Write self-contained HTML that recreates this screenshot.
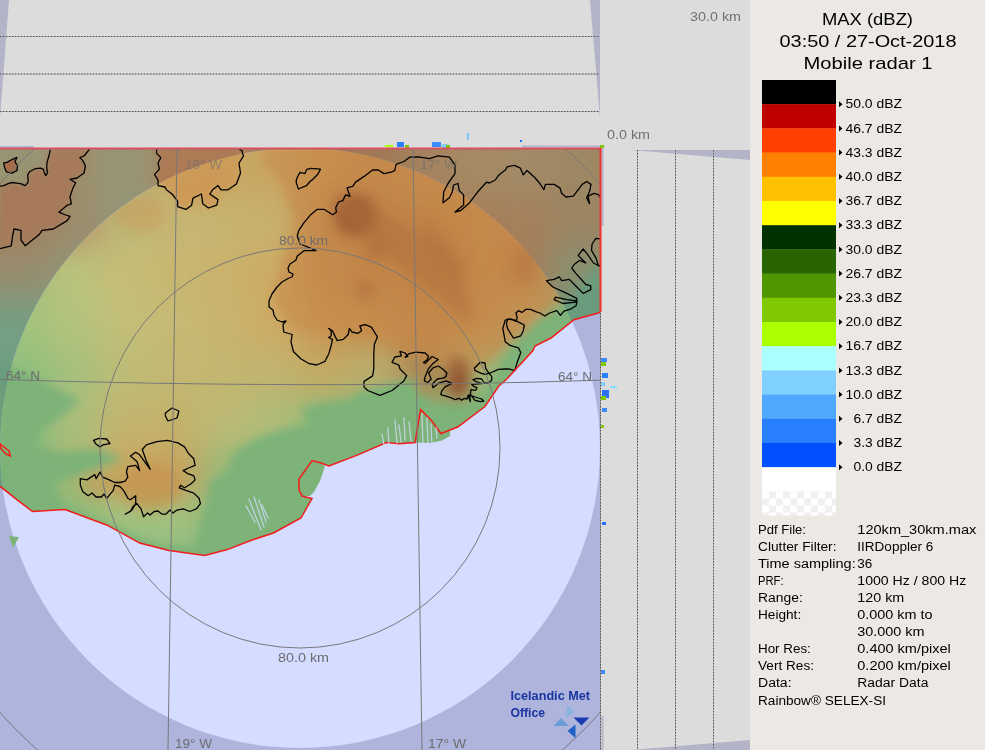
<!DOCTYPE html>
<html><head><meta charset="utf-8"><style>
html,body{margin:0;padding:0;width:985px;height:750px;overflow:hidden;background:#ece9e4;}
svg{display:block;}
</style></head><body>
<svg width="985" height="750" viewBox="0 0 985 750"><defs><clipPath id="mapclip"><rect x="0" y="148" width="600" height="602"/></clipPath><clipPath id="landclip"><path d="M0.0,148.0 L600.0,148.0 L600.0,312.0 L599.0,312.8 L574.0,319.7 L551.0,338.0 L535.0,346.0 L533.0,350.5 L521.6,363.0 L506.8,379.0 L498.8,386.0 L485.0,406.5 L457.7,427.0 L441.0,433.5 L431.0,420.0 L420.6,409.6 L415.0,442.6 L399.0,443.7 L386.5,442.6 L356.6,455.4 L329.0,466.0 L318.0,462.0 L312.0,460.8 L299.0,479.0 L299.0,489.5 L302.0,496.0 L312.0,498.5 L301.0,518.0 L273.5,533.0 L250.0,540.7 L227.4,549.6 L204.7,555.4 L169.0,550.6 L139.7,543.1 L107.2,525.2 L65.0,509.6 L32.5,511.6 L16.2,499.2 L0.0,486.2 Z"/></clipPath><clipPath id="inc"><circle cx="300" cy="448" r="300"/></clipPath><clipPath id="outc"><path clip-rule="evenodd" d="M-50,100 H700 V800 H-50 Z M0,448 A300,300 0 1 0 600,448 A300,300 0 1 0 0,448 Z"/></clipPath><filter id="b14" x="-20%" y="-20%" width="140%" height="140%"><feGaussianBlur stdDeviation="16"/></filter><filter id="b4" x="-20%" y="-20%" width="140%" height="140%"><feGaussianBlur stdDeviation="4"/></filter><filter id="b2" x="-20%" y="-20%" width="140%" height="140%"><feGaussianBlur stdDeviation="2.5"/></filter><filter id="b6" x="-50%" y="-50%" width="200%" height="200%"><feGaussianBlur stdDeviation="6"/></filter><pattern id="chk" width="14" height="14" patternUnits="userSpaceOnUse" x="762" y="491.4"><rect width="14" height="14" fill="#ffffff"/><rect x="7" width="7" height="7" fill="#f0f0f0"/><rect y="7" width="7" height="7" fill="#f0f0f0"/></pattern></defs><rect x="0" y="0" width="985" height="750" fill="#dcdcdc"/><rect x="750" y="0" width="235" height="750" fill="#ece9e4"/><path d="M0,0 L9,0 L0,118 Z" fill="#b4b4c8"/><path d="M590,0 L600,0 L600,118 Z" fill="#b4b4c8"/><line x1="0" y1="36.5" x2="599" y2="36.5" stroke="#b0b0b0" stroke-width="1"/><line x1="0" y1="36.5" x2="599" y2="36.5" stroke="#505050" stroke-width="1" stroke-dasharray="1.3,1.7"/><line x1="0" y1="74" x2="599" y2="74" stroke="#b0b0b0" stroke-width="1"/><line x1="0" y1="74" x2="599" y2="74" stroke="#505050" stroke-width="1" stroke-dasharray="1.3,1.7"/><line x1="0" y1="111.5" x2="599" y2="111.5" stroke="#b0b0b0" stroke-width="1"/><line x1="0" y1="111.5" x2="599" y2="111.5" stroke="#505050" stroke-width="1" stroke-dasharray="1.3,1.7"/><path d="M631,150 L750,150 L750,160 Z" fill="#b4b4c8"/><path d="M631,750 L750,750 L750,740 Z" fill="#b4b4c8"/><line x1="637.5" y1="150" x2="637.5" y2="750" stroke="#b0b0b0" stroke-width="1"/><line x1="637.5" y1="150" x2="637.5" y2="750" stroke="#505050" stroke-width="1" stroke-dasharray="1.3,1.7"/><line x1="675.5" y1="150" x2="675.5" y2="750" stroke="#b0b0b0" stroke-width="1"/><line x1="675.5" y1="150" x2="675.5" y2="750" stroke="#505050" stroke-width="1" stroke-dasharray="1.3,1.7"/><line x1="713.5" y1="150" x2="713.5" y2="750" stroke="#b0b0b0" stroke-width="1"/><line x1="713.5" y1="150" x2="713.5" y2="750" stroke="#505050" stroke-width="1" stroke-dasharray="1.3,1.7"/><g clip-path="url(#mapclip)"><rect x="0" y="148" width="600" height="602" fill="#aeb4dc"/><circle cx="300" cy="448" r="300" fill="#d4dcff"/><g clip-path="url(#landclip)"><g clip-path="url(#inc)"><g filter="url(#b14)"><rect x="-50" y="98" width="51" height="51" fill="rgb(190, 130, 85)"/><rect x="0" y="98" width="51" height="51" fill="rgb(190, 130, 85)"/><rect x="50" y="98" width="51" height="51" fill="rgb(185, 140, 100)"/><rect x="100" y="98" width="51" height="51" fill="rgb(175, 170, 120)"/><rect x="150" y="98" width="51" height="51" fill="rgb(200, 172, 105)"/><rect x="200" y="98" width="51" height="51" fill="rgb(200, 168, 100)"/><rect x="250" y="98" width="51" height="51" fill="rgb(200, 165, 98)"/><rect x="300" y="98" width="51" height="51" fill="rgb(200, 145, 78)"/><rect x="350" y="98" width="51" height="51" fill="rgb(192, 130, 70)"/><rect x="400" y="98" width="51" height="51" fill="rgb(195, 135, 72)"/><rect x="450" y="98" width="51" height="51" fill="rgb(198, 140, 75)"/><rect x="500" y="98" width="51" height="51" fill="rgb(198, 140, 80)"/><rect x="550" y="98" width="51" height="51" fill="rgb(190, 145, 90)"/><rect x="600" y="98" width="51" height="51" fill="rgb(190, 145, 90)"/><rect x="-50" y="148" width="51" height="51" fill="rgb(190, 130, 85)"/><rect x="0" y="148" width="51" height="51" fill="rgb(190, 130, 85)"/><rect x="50" y="148" width="51" height="51" fill="rgb(185, 140, 100)"/><rect x="100" y="148" width="51" height="51" fill="rgb(175, 170, 120)"/><rect x="150" y="148" width="51" height="51" fill="rgb(200, 172, 105)"/><rect x="200" y="148" width="51" height="51" fill="rgb(200, 168, 100)"/><rect x="250" y="148" width="51" height="51" fill="rgb(200, 165, 98)"/><rect x="300" y="148" width="51" height="51" fill="rgb(200, 145, 78)"/><rect x="350" y="148" width="51" height="51" fill="rgb(192, 130, 70)"/><rect x="400" y="148" width="51" height="51" fill="rgb(195, 135, 72)"/><rect x="450" y="148" width="51" height="51" fill="rgb(198, 140, 75)"/><rect x="500" y="148" width="51" height="51" fill="rgb(198, 140, 80)"/><rect x="550" y="148" width="51" height="51" fill="rgb(190, 145, 90)"/><rect x="600" y="148" width="51" height="51" fill="rgb(190, 145, 90)"/><rect x="-50" y="198" width="51" height="51" fill="rgb(190, 130, 90)"/><rect x="0" y="198" width="51" height="51" fill="rgb(190, 130, 90)"/><rect x="50" y="198" width="51" height="51" fill="rgb(185, 145, 105)"/><rect x="100" y="198" width="51" height="51" fill="rgb(188, 185, 120)"/><rect x="150" y="198" width="51" height="51" fill="rgb(198, 182, 115)"/><rect x="200" y="198" width="51" height="51" fill="rgb(198, 180, 112)"/><rect x="250" y="198" width="51" height="51" fill="rgb(200, 176, 108)"/><rect x="300" y="198" width="51" height="51" fill="rgb(192, 132, 70)"/><rect x="350" y="198" width="51" height="51" fill="rgb(180, 115, 62)"/><rect x="400" y="198" width="51" height="51" fill="rgb(185, 122, 64)"/><rect x="450" y="198" width="51" height="51" fill="rgb(192, 130, 68)"/><rect x="500" y="198" width="51" height="51" fill="rgb(192, 132, 72)"/><rect x="550" y="198" width="51" height="51" fill="rgb(175, 155, 110)"/><rect x="600" y="198" width="51" height="51" fill="rgb(175, 155, 110)"/><rect x="-50" y="248" width="51" height="51" fill="rgb(170, 190, 125)"/><rect x="0" y="248" width="51" height="51" fill="rgb(170, 190, 125)"/><rect x="50" y="248" width="51" height="51" fill="rgb(185, 195, 125)"/><rect x="100" y="248" width="51" height="51" fill="rgb(198, 188, 118)"/><rect x="150" y="248" width="51" height="51" fill="rgb(200, 183, 113)"/><rect x="200" y="248" width="51" height="51" fill="rgb(202, 178, 108)"/><rect x="250" y="248" width="51" height="51" fill="rgb(205, 170, 100)"/><rect x="300" y="248" width="51" height="51" fill="rgb(195, 135, 72)"/><rect x="350" y="248" width="51" height="51" fill="rgb(188, 125, 66)"/><rect x="400" y="248" width="51" height="51" fill="rgb(185, 120, 62)"/><rect x="450" y="248" width="51" height="51" fill="rgb(192, 130, 68)"/><rect x="500" y="248" width="51" height="51" fill="rgb(190, 128, 68)"/><rect x="550" y="248" width="51" height="51" fill="rgb(150, 175, 125)"/><rect x="600" y="248" width="51" height="51" fill="rgb(150, 175, 125)"/><rect x="-50" y="298" width="51" height="51" fill="rgb(160, 195, 125)"/><rect x="0" y="298" width="51" height="51" fill="rgb(160, 195, 125)"/><rect x="50" y="298" width="51" height="51" fill="rgb(180, 195, 125)"/><rect x="100" y="298" width="51" height="51" fill="rgb(195, 190, 120)"/><rect x="150" y="298" width="51" height="51" fill="rgb(198, 185, 115)"/><rect x="200" y="298" width="51" height="51" fill="rgb(200, 180, 110)"/><rect x="250" y="298" width="51" height="51" fill="rgb(205, 170, 100)"/><rect x="300" y="298" width="51" height="51" fill="rgb(200, 145, 80)"/><rect x="350" y="298" width="51" height="51" fill="rgb(195, 138, 74)"/><rect x="400" y="298" width="51" height="51" fill="rgb(190, 128, 68)"/><rect x="450" y="298" width="51" height="51" fill="rgb(195, 138, 74)"/><rect x="500" y="298" width="51" height="51" fill="rgb(185, 158, 98)"/><rect x="550" y="298" width="51" height="51" fill="rgb(130, 175, 120)"/><rect x="600" y="298" width="51" height="51" fill="rgb(130, 175, 120)"/><rect x="-50" y="348" width="51" height="51" fill="rgb(145, 192, 125)"/><rect x="0" y="348" width="51" height="51" fill="rgb(145, 192, 125)"/><rect x="50" y="348" width="51" height="51" fill="rgb(165, 192, 125)"/><rect x="100" y="348" width="51" height="51" fill="rgb(190, 188, 118)"/><rect x="150" y="348" width="51" height="51" fill="rgb(195, 183, 113)"/><rect x="200" y="348" width="51" height="51" fill="rgb(195, 182, 112)"/><rect x="250" y="348" width="51" height="51" fill="rgb(192, 180, 112)"/><rect x="300" y="348" width="51" height="51" fill="rgb(195, 170, 100)"/><rect x="350" y="348" width="51" height="51" fill="rgb(185, 175, 110)"/><rect x="400" y="348" width="51" height="51" fill="rgb(170, 130, 80)"/><rect x="450" y="348" width="51" height="51" fill="rgb(165, 180, 115)"/><rect x="500" y="348" width="51" height="51" fill="rgb(130, 180, 120)"/><rect x="550" y="348" width="51" height="51" fill="rgb(125, 178, 120)"/><rect x="600" y="348" width="51" height="51" fill="rgb(125, 178, 120)"/><rect x="-50" y="398" width="51" height="51" fill="rgb(135, 188, 125)"/><rect x="0" y="398" width="51" height="51" fill="rgb(135, 188, 125)"/><rect x="50" y="398" width="51" height="51" fill="rgb(170, 190, 122)"/><rect x="100" y="398" width="51" height="51" fill="rgb(195, 180, 110)"/><rect x="150" y="398" width="51" height="51" fill="rgb(195, 178, 108)"/><rect x="200" y="398" width="51" height="51" fill="rgb(188, 186, 118)"/><rect x="250" y="398" width="51" height="51" fill="rgb(175, 188, 120)"/><rect x="300" y="398" width="51" height="51" fill="rgb(140, 185, 120)"/><rect x="350" y="398" width="51" height="51" fill="rgb(125, 180, 120)"/><rect x="400" y="398" width="51" height="51" fill="rgb(135, 175, 115)"/><rect x="450" y="398" width="51" height="51" fill="rgb(125, 178, 120)"/><rect x="500" y="398" width="51" height="51" fill="rgb(125, 178, 120)"/><rect x="550" y="398" width="51" height="51" fill="rgb(125, 178, 120)"/><rect x="600" y="398" width="51" height="51" fill="rgb(125, 178, 120)"/><rect x="-50" y="448" width="51" height="51" fill="rgb(120, 178, 120)"/><rect x="0" y="448" width="51" height="51" fill="rgb(120, 178, 120)"/><rect x="50" y="448" width="51" height="51" fill="rgb(165, 185, 115)"/><rect x="100" y="448" width="51" height="51" fill="rgb(200, 165, 95)"/><rect x="150" y="448" width="51" height="51" fill="rgb(200, 160, 90)"/><rect x="200" y="448" width="51" height="51" fill="rgb(150, 185, 120)"/><rect x="250" y="448" width="51" height="51" fill="rgb(135, 182, 120)"/><rect x="300" y="448" width="51" height="51" fill="rgb(125, 178, 120)"/><rect x="350" y="448" width="51" height="51" fill="rgb(125, 178, 120)"/><rect x="400" y="448" width="51" height="51" fill="rgb(125, 178, 120)"/><rect x="450" y="448" width="51" height="51" fill="rgb(125, 178, 120)"/><rect x="500" y="448" width="51" height="51" fill="rgb(125, 178, 120)"/><rect x="550" y="448" width="51" height="51" fill="rgb(125, 178, 120)"/><rect x="600" y="448" width="51" height="51" fill="rgb(125, 178, 120)"/><rect x="-50" y="498" width="51" height="51" fill="rgb(120, 178, 120)"/><rect x="0" y="498" width="51" height="51" fill="rgb(120, 178, 120)"/><rect x="50" y="498" width="51" height="51" fill="rgb(140, 185, 122)"/><rect x="100" y="498" width="51" height="51" fill="rgb(160, 195, 128)"/><rect x="150" y="498" width="51" height="51" fill="rgb(160, 195, 128)"/><rect x="200" y="498" width="51" height="51" fill="rgb(140, 182, 120)"/><rect x="250" y="498" width="51" height="51" fill="rgb(125, 178, 120)"/><rect x="300" y="498" width="51" height="51" fill="rgb(125, 178, 120)"/><rect x="350" y="498" width="51" height="51" fill="rgb(125, 178, 120)"/><rect x="400" y="498" width="51" height="51" fill="rgb(125, 178, 120)"/><rect x="450" y="498" width="51" height="51" fill="rgb(125, 178, 120)"/><rect x="500" y="498" width="51" height="51" fill="rgb(125, 178, 120)"/><rect x="550" y="498" width="51" height="51" fill="rgb(125, 178, 120)"/><rect x="600" y="498" width="51" height="51" fill="rgb(125, 178, 120)"/><rect x="-50" y="548" width="51" height="51" fill="rgb(125, 178, 120)"/><rect x="0" y="548" width="51" height="51" fill="rgb(125, 178, 120)"/><rect x="50" y="548" width="51" height="51" fill="rgb(125, 178, 120)"/><rect x="100" y="548" width="51" height="51" fill="rgb(125, 178, 120)"/><rect x="150" y="548" width="51" height="51" fill="rgb(125, 178, 120)"/><rect x="200" y="548" width="51" height="51" fill="rgb(125, 178, 120)"/><rect x="250" y="548" width="51" height="51" fill="rgb(125, 178, 120)"/><rect x="300" y="548" width="51" height="51" fill="rgb(125, 178, 120)"/><rect x="350" y="548" width="51" height="51" fill="rgb(125, 178, 120)"/><rect x="400" y="548" width="51" height="51" fill="rgb(125, 178, 120)"/><rect x="450" y="548" width="51" height="51" fill="rgb(125, 178, 120)"/><rect x="500" y="548" width="51" height="51" fill="rgb(125, 178, 120)"/><rect x="550" y="548" width="51" height="51" fill="rgb(125, 178, 120)"/><rect x="600" y="548" width="51" height="51" fill="rgb(125, 178, 120)"/><rect x="-50" y="598" width="51" height="51" fill="rgb(125, 178, 120)"/><rect x="0" y="598" width="51" height="51" fill="rgb(125, 178, 120)"/><rect x="50" y="598" width="51" height="51" fill="rgb(125, 178, 120)"/><rect x="100" y="598" width="51" height="51" fill="rgb(125, 178, 120)"/><rect x="150" y="598" width="51" height="51" fill="rgb(125, 178, 120)"/><rect x="200" y="598" width="51" height="51" fill="rgb(125, 178, 120)"/><rect x="250" y="598" width="51" height="51" fill="rgb(125, 178, 120)"/><rect x="300" y="598" width="51" height="51" fill="rgb(125, 178, 120)"/><rect x="350" y="598" width="51" height="51" fill="rgb(125, 178, 120)"/><rect x="400" y="598" width="51" height="51" fill="rgb(125, 178, 120)"/><rect x="450" y="598" width="51" height="51" fill="rgb(125, 178, 120)"/><rect x="500" y="598" width="51" height="51" fill="rgb(125, 178, 120)"/><rect x="550" y="598" width="51" height="51" fill="rgb(125, 178, 120)"/><rect x="600" y="598" width="51" height="51" fill="rgb(125, 178, 120)"/></g><g filter="url(#b4)"><path d="M262.0,148.0 L600.0,148.0 L600.0,290.0 L560.0,300.0 L525.0,325.0 L495.0,355.0 L475.0,372.0 L445.0,366.0 L405.0,355.0 L378.0,338.0 L335.0,333.0 L292.0,328.0 L272.0,300.0 L282.0,262.0 L296.0,225.0 L282.0,185.0 L262.0,160.0 Z" fill="rgb(198,140,75)" opacity="0.6"/><path d="M0.0,362.0 L30.0,374.0 L58.0,390.0 L80.0,400.0 L65.0,413.5 L42.0,430.0 L32.5,446.0 L55.0,452.5 L97.5,449.0 L123.5,459.0 L84.5,472.0 L52.0,485.0 L65.0,506.0 L97.0,519.0 L130.0,533.0 L162.0,547.0 L195.0,547.0 L201.0,522.0 L208.0,499.0 L210.5,481.8 L228.7,469.7 L234.8,451.4 L256.0,439.0 L280.5,430.0 L308.0,424.0 L301.8,408.7 L326.0,402.6 L350.6,399.6 L362.8,390.5 L378.0,387.4 L411.5,378.3 L420.0,396.0 L440.0,406.0 L470.0,406.0 L490.0,386.0 L508.0,350.0 L540.0,320.0 L560.0,308.0 L580.0,288.0 L600.0,262.0 L600.0,600.0 L0.0,600.0 Z" fill="rgb(125,178,120)"/></g><g filter="url(#b2)"><path d="M156.6,149.2 L156.6,153.4 L160.8,157.6 L158.0,163.2 L159.4,168.8 L157.3,171.6 L154.5,174.4 L158.0,180.0 L158.0,185.6 L165.0,187.0 L166.4,189.8 L172.0,194.0 L177.6,201.0 L177.6,206.6 L186.0,209.4 L191.6,205.2 L193.0,198.2 L201.4,194.0 L202.8,203.8 L208.4,208.0 L216.8,205.2 L218.0,199.6 L209.8,194.0 L212.6,189.8 L218.0,185.6 L221.0,189.8 L228.0,189.8 L236.4,184.0 L240.5,173.0 L239.0,163.0 L243.4,156.2 L242.0,150.6 L239.0,149.2 Z" fill="rgb(205,152,85)" opacity="0.8"/></g><g filter="url(#b6)">
<ellipse cx="355" cy="215" rx="22" ry="22" fill="#985530" opacity="0.75"/>
<path d="M330,190 Q395,215 445,250 Q475,285 470,325 Q440,300 405,270 Q355,235 330,190 Z" fill="#b06a3a" opacity="0.45"/>
<path d="M420,215 Q450,230 470,270 Q460,290 440,265 Q420,240 420,215 Z" fill="#b06a3a" opacity="0.35"/>
<ellipse cx="525" cy="265" rx="14" ry="20" fill="#b06a3a" opacity="0.35"/>
<ellipse cx="458" cy="378" rx="13" ry="22" fill="#9a5a32" opacity="0.8"/><ellipse cx="459" cy="382" rx="8" ry="10" fill="#8a4a28" opacity="0.6"/>
<ellipse cx="365" cy="290" rx="10" ry="8" fill="#a86535" opacity="0.5"/>
<ellipse cx="375" cy="250" rx="12" ry="12" fill="#a86535" opacity="0.35"/>
<ellipse cx="150" cy="488" rx="32" ry="22" fill="#c98a45" opacity="0.55"/>
<ellipse cx="100" cy="485" rx="20" ry="12" fill="#c99050" opacity="0.4"/>
<ellipse cx="140" cy="215" rx="25" ry="18" fill="#d09050" opacity="0.4"/>
<ellipse cx="200" cy="190" rx="25" ry="15" fill="#d09050" opacity="0.4"/>
</g></g><g clip-path="url(#outc)"><g filter="url(#b14)"><rect x="-50" y="98" width="51" height="51" fill="rgb(152, 148, 115)"/><rect x="0" y="98" width="51" height="51" fill="rgb(152, 148, 115)"/><rect x="50" y="98" width="51" height="51" fill="rgb(155, 142, 108)"/><rect x="100" y="98" width="51" height="51" fill="rgb(150, 150, 118)"/><rect x="150" y="98" width="51" height="51" fill="rgb(160, 135, 100)"/><rect x="200" y="98" width="51" height="51" fill="rgb(165, 130, 95)"/><rect x="250" y="98" width="51" height="51" fill="rgb(168, 130, 95)"/><rect x="300" y="98" width="51" height="51" fill="rgb(160, 125, 90)"/><rect x="350" y="98" width="51" height="51" fill="rgb(160, 120, 85)"/><rect x="400" y="98" width="51" height="51" fill="rgb(165, 130, 95)"/><rect x="450" y="98" width="51" height="51" fill="rgb(165, 138, 100)"/><rect x="500" y="98" width="51" height="51" fill="rgb(162, 138, 102)"/><rect x="550" y="98" width="51" height="51" fill="rgb(158, 135, 100)"/><rect x="600" y="98" width="51" height="51" fill="rgb(158, 135, 100)"/><rect x="-50" y="148" width="51" height="51" fill="rgb(152, 148, 115)"/><rect x="0" y="148" width="51" height="51" fill="rgb(152, 148, 115)"/><rect x="50" y="148" width="51" height="51" fill="rgb(155, 142, 108)"/><rect x="100" y="148" width="51" height="51" fill="rgb(150, 150, 118)"/><rect x="150" y="148" width="51" height="51" fill="rgb(160, 135, 100)"/><rect x="200" y="148" width="51" height="51" fill="rgb(165, 130, 95)"/><rect x="250" y="148" width="51" height="51" fill="rgb(168, 130, 95)"/><rect x="300" y="148" width="51" height="51" fill="rgb(160, 125, 90)"/><rect x="350" y="148" width="51" height="51" fill="rgb(160, 120, 85)"/><rect x="400" y="148" width="51" height="51" fill="rgb(165, 130, 95)"/><rect x="450" y="148" width="51" height="51" fill="rgb(165, 138, 100)"/><rect x="500" y="148" width="51" height="51" fill="rgb(162, 138, 102)"/><rect x="550" y="148" width="51" height="51" fill="rgb(158, 135, 100)"/><rect x="600" y="148" width="51" height="51" fill="rgb(158, 135, 100)"/><rect x="-50" y="198" width="51" height="51" fill="rgb(162, 130, 95)"/><rect x="0" y="198" width="51" height="51" fill="rgb(162, 130, 95)"/><rect x="50" y="198" width="51" height="51" fill="rgb(155, 140, 108)"/><rect x="100" y="198" width="51" height="51" fill="rgb(148, 150, 120)"/><rect x="150" y="198" width="51" height="51" fill="rgb(150, 148, 118)"/><rect x="200" y="198" width="51" height="51" fill="rgb(155, 140, 105)"/><rect x="250" y="198" width="51" height="51" fill="rgb(160, 125, 90)"/><rect x="300" y="198" width="51" height="51" fill="rgb(160, 125, 90)"/><rect x="350" y="198" width="51" height="51" fill="rgb(160, 125, 90)"/><rect x="400" y="198" width="51" height="51" fill="rgb(162, 125, 88)"/><rect x="450" y="198" width="51" height="51" fill="rgb(165, 126, 88)"/><rect x="500" y="198" width="51" height="51" fill="rgb(165, 128, 90)"/><rect x="550" y="198" width="51" height="51" fill="rgb(155, 132, 100)"/><rect x="600" y="198" width="51" height="51" fill="rgb(155, 132, 100)"/><rect x="-50" y="248" width="51" height="51" fill="rgb(150, 140, 110)"/><rect x="0" y="248" width="51" height="51" fill="rgb(150, 140, 110)"/><rect x="50" y="248" width="51" height="51" fill="rgb(145, 148, 118)"/><rect x="100" y="248" width="51" height="51" fill="rgb(140, 152, 122)"/><rect x="150" y="248" width="51" height="51" fill="rgb(150, 145, 110)"/><rect x="200" y="248" width="51" height="51" fill="rgb(160, 130, 95)"/><rect x="250" y="248" width="51" height="51" fill="rgb(160, 125, 90)"/><rect x="300" y="248" width="51" height="51" fill="rgb(160, 125, 90)"/><rect x="350" y="248" width="51" height="51" fill="rgb(160, 125, 90)"/><rect x="400" y="248" width="51" height="51" fill="rgb(160, 125, 90)"/><rect x="450" y="248" width="51" height="51" fill="rgb(165, 125, 88)"/><rect x="500" y="248" width="51" height="51" fill="rgb(165, 125, 88)"/><rect x="550" y="248" width="51" height="51" fill="rgb(135, 145, 112)"/><rect x="600" y="248" width="51" height="51" fill="rgb(135, 145, 112)"/><rect x="-50" y="298" width="51" height="51" fill="rgb(118, 158, 130)"/><rect x="0" y="298" width="51" height="51" fill="rgb(118, 158, 130)"/><rect x="50" y="298" width="51" height="51" fill="rgb(120, 158, 130)"/><rect x="100" y="298" width="51" height="51" fill="rgb(140, 150, 118)"/><rect x="150" y="298" width="51" height="51" fill="rgb(155, 140, 105)"/><rect x="200" y="298" width="51" height="51" fill="rgb(160, 130, 95)"/><rect x="250" y="298" width="51" height="51" fill="rgb(160, 125, 90)"/><rect x="300" y="298" width="51" height="51" fill="rgb(160, 125, 90)"/><rect x="350" y="298" width="51" height="51" fill="rgb(160, 125, 90)"/><rect x="400" y="298" width="51" height="51" fill="rgb(160, 125, 90)"/><rect x="450" y="298" width="51" height="51" fill="rgb(160, 125, 90)"/><rect x="500" y="298" width="51" height="51" fill="rgb(140, 140, 105)"/><rect x="550" y="298" width="51" height="51" fill="rgb(105, 150, 125)"/><rect x="600" y="298" width="51" height="51" fill="rgb(105, 150, 125)"/><rect x="-50" y="348" width="51" height="51" fill="rgb(112, 160, 130)"/><rect x="0" y="348" width="51" height="51" fill="rgb(112, 160, 130)"/><rect x="50" y="348" width="51" height="51" fill="rgb(112, 160, 130)"/><rect x="100" y="348" width="51" height="51" fill="rgb(112, 160, 130)"/><rect x="150" y="348" width="51" height="51" fill="rgb(112, 160, 130)"/><rect x="200" y="348" width="51" height="51" fill="rgb(112, 160, 130)"/><rect x="250" y="348" width="51" height="51" fill="rgb(112, 160, 130)"/><rect x="300" y="348" width="51" height="51" fill="rgb(112, 160, 130)"/><rect x="350" y="348" width="51" height="51" fill="rgb(112, 160, 130)"/><rect x="400" y="348" width="51" height="51" fill="rgb(112, 160, 130)"/><rect x="450" y="348" width="51" height="51" fill="rgb(112, 160, 130)"/><rect x="500" y="348" width="51" height="51" fill="rgb(112, 160, 130)"/><rect x="550" y="348" width="51" height="51" fill="rgb(100, 150, 125)"/><rect x="600" y="348" width="51" height="51" fill="rgb(100, 150, 125)"/><rect x="-50" y="398" width="51" height="51" fill="rgb(110, 160, 125)"/><rect x="0" y="398" width="51" height="51" fill="rgb(110, 160, 125)"/><rect x="50" y="398" width="51" height="51" fill="rgb(110, 160, 125)"/><rect x="100" y="398" width="51" height="51" fill="rgb(110, 160, 125)"/><rect x="150" y="398" width="51" height="51" fill="rgb(110, 160, 125)"/><rect x="200" y="398" width="51" height="51" fill="rgb(110, 160, 125)"/><rect x="250" y="398" width="51" height="51" fill="rgb(110, 160, 125)"/><rect x="300" y="398" width="51" height="51" fill="rgb(110, 160, 125)"/><rect x="350" y="398" width="51" height="51" fill="rgb(110, 160, 125)"/><rect x="400" y="398" width="51" height="51" fill="rgb(110, 160, 125)"/><rect x="450" y="398" width="51" height="51" fill="rgb(110, 160, 125)"/><rect x="500" y="398" width="51" height="51" fill="rgb(110, 160, 125)"/><rect x="550" y="398" width="51" height="51" fill="rgb(110, 160, 125)"/><rect x="600" y="398" width="51" height="51" fill="rgb(110, 160, 125)"/><rect x="-50" y="448" width="51" height="51" fill="rgb(105, 160, 125)"/><rect x="0" y="448" width="51" height="51" fill="rgb(105, 160, 125)"/><rect x="50" y="448" width="51" height="51" fill="rgb(105, 160, 125)"/><rect x="100" y="448" width="51" height="51" fill="rgb(105, 160, 125)"/><rect x="150" y="448" width="51" height="51" fill="rgb(105, 160, 125)"/><rect x="200" y="448" width="51" height="51" fill="rgb(105, 160, 125)"/><rect x="250" y="448" width="51" height="51" fill="rgb(105, 160, 125)"/><rect x="300" y="448" width="51" height="51" fill="rgb(105, 160, 125)"/><rect x="350" y="448" width="51" height="51" fill="rgb(105, 160, 125)"/><rect x="400" y="448" width="51" height="51" fill="rgb(105, 160, 125)"/><rect x="450" y="448" width="51" height="51" fill="rgb(105, 160, 125)"/><rect x="500" y="448" width="51" height="51" fill="rgb(105, 160, 125)"/><rect x="550" y="448" width="51" height="51" fill="rgb(105, 160, 125)"/><rect x="600" y="448" width="51" height="51" fill="rgb(105, 160, 125)"/><rect x="-50" y="498" width="51" height="51" fill="rgb(105, 155, 125)"/><rect x="0" y="498" width="51" height="51" fill="rgb(105, 155, 125)"/><rect x="50" y="498" width="51" height="51" fill="rgb(105, 155, 125)"/><rect x="100" y="498" width="51" height="51" fill="rgb(105, 155, 125)"/><rect x="150" y="498" width="51" height="51" fill="rgb(105, 155, 125)"/><rect x="200" y="498" width="51" height="51" fill="rgb(105, 155, 125)"/><rect x="250" y="498" width="51" height="51" fill="rgb(105, 155, 125)"/><rect x="300" y="498" width="51" height="51" fill="rgb(105, 155, 125)"/><rect x="350" y="498" width="51" height="51" fill="rgb(105, 155, 125)"/><rect x="400" y="498" width="51" height="51" fill="rgb(105, 155, 125)"/><rect x="450" y="498" width="51" height="51" fill="rgb(105, 155, 125)"/><rect x="500" y="498" width="51" height="51" fill="rgb(105, 155, 125)"/><rect x="550" y="498" width="51" height="51" fill="rgb(105, 155, 125)"/><rect x="600" y="498" width="51" height="51" fill="rgb(105, 155, 125)"/><rect x="-50" y="548" width="51" height="51" fill="rgb(105, 155, 125)"/><rect x="0" y="548" width="51" height="51" fill="rgb(105, 155, 125)"/><rect x="50" y="548" width="51" height="51" fill="rgb(105, 155, 125)"/><rect x="100" y="548" width="51" height="51" fill="rgb(105, 155, 125)"/><rect x="150" y="548" width="51" height="51" fill="rgb(105, 155, 125)"/><rect x="200" y="548" width="51" height="51" fill="rgb(105, 155, 125)"/><rect x="250" y="548" width="51" height="51" fill="rgb(105, 155, 125)"/><rect x="300" y="548" width="51" height="51" fill="rgb(105, 155, 125)"/><rect x="350" y="548" width="51" height="51" fill="rgb(105, 155, 125)"/><rect x="400" y="548" width="51" height="51" fill="rgb(105, 155, 125)"/><rect x="450" y="548" width="51" height="51" fill="rgb(105, 155, 125)"/><rect x="500" y="548" width="51" height="51" fill="rgb(105, 155, 125)"/><rect x="550" y="548" width="51" height="51" fill="rgb(105, 155, 125)"/><rect x="600" y="548" width="51" height="51" fill="rgb(105, 155, 125)"/><rect x="-50" y="598" width="51" height="51" fill="rgb(105, 155, 125)"/><rect x="0" y="598" width="51" height="51" fill="rgb(105, 155, 125)"/><rect x="50" y="598" width="51" height="51" fill="rgb(105, 155, 125)"/><rect x="100" y="598" width="51" height="51" fill="rgb(105, 155, 125)"/><rect x="150" y="598" width="51" height="51" fill="rgb(105, 155, 125)"/><rect x="200" y="598" width="51" height="51" fill="rgb(105, 155, 125)"/><rect x="250" y="598" width="51" height="51" fill="rgb(105, 155, 125)"/><rect x="300" y="598" width="51" height="51" fill="rgb(105, 155, 125)"/><rect x="350" y="598" width="51" height="51" fill="rgb(105, 155, 125)"/><rect x="400" y="598" width="51" height="51" fill="rgb(105, 155, 125)"/><rect x="450" y="598" width="51" height="51" fill="rgb(105, 155, 125)"/><rect x="500" y="598" width="51" height="51" fill="rgb(105, 155, 125)"/><rect x="550" y="598" width="51" height="51" fill="rgb(105, 155, 125)"/><rect x="600" y="598" width="51" height="51" fill="rgb(105, 155, 125)"/></g><g filter="url(#b4)"><path d="M0.0,362.0 L30.0,374.0 L58.0,390.0 L80.0,400.0 L65.0,413.5 L42.0,430.0 L32.5,446.0 L55.0,452.5 L97.5,449.0 L123.5,459.0 L84.5,472.0 L52.0,485.0 L65.0,506.0 L97.0,519.0 L130.0,533.0 L162.0,547.0 L195.0,547.0 L201.0,522.0 L208.0,499.0 L210.5,481.8 L228.7,469.7 L234.8,451.4 L256.0,439.0 L280.5,430.0 L308.0,424.0 L301.8,408.7 L326.0,402.6 L350.6,399.6 L362.8,390.5 L378.0,387.4 L411.5,378.3 L420.0,396.0 L440.0,406.0 L470.0,406.0 L490.0,386.0 L508.0,350.0 L540.0,320.0 L560.0,308.0 L580.0,288.0 L600.0,262.0 L600.0,600.0 L0.0,600.0 Z" fill="rgb(105,155,125)"/></g><g filter="url(#b2)"><path d="M0.0,186.2 L3.8,185.6 L8.2,183.7 L12.5,182.5 L16.3,183.1 L20.7,183.7 L25.1,185.6 L27.6,183.1 L28.2,180.0 L27.6,175.0 L29.5,171.8 L35.1,168.7 L40.8,168.1 L43.3,169.3 L44.5,173.1 L45.8,175.6 L47.6,172.5 L46.7,168.0 L47.0,162.4 L48.3,158.0 L49.5,153.6 L50.2,149.3 L89.6,149.2 L89.6,149.2 L84.0,156.0 L79.8,157.6 L82.6,160.4 L85.4,166.0 L84.0,173.0 L77.0,178.0 L70.0,179.3 L75.6,182.8 L72.8,188.4 L70.0,196.8 L71.4,203.8 L67.2,205.2 L58.8,212.2 L65.8,215.0 L70.0,216.4 L67.2,220.6 L53.2,229.0 L42.0,230.4 L39.2,234.6 L25.2,245.8 L21.0,240.0 L21.0,230.4 L14.0,229.0 L12.6,236.0 L11.2,245.8 L0.0,248.6 L0.0,248.6 Z" fill="rgb(166,122,90)"/><path d="M156.6,149.2 L156.6,153.4 L160.8,157.6 L158.0,163.2 L159.4,168.8 L157.3,171.6 L154.5,174.4 L158.0,180.0 L158.0,185.6 L165.0,187.0 L166.4,189.8 L172.0,194.0 L177.6,201.0 L177.6,206.6 L186.0,209.4 L191.6,205.2 L193.0,198.2 L201.4,194.0 L202.8,203.8 L208.4,208.0 L216.8,205.2 L218.0,199.6 L209.8,194.0 L212.6,189.8 L218.0,185.6 L221.0,189.8 L228.0,189.8 L236.4,184.0 L240.5,173.0 L239.0,163.0 L243.4,156.2 L242.0,150.6 L239.0,149.2 Z" fill="rgb(172,122,85)"/></g></g></g><path d="M312,460.8 L318,462 L325,466 L322,475 L320,481 L314,492 L310,496 L302,496 L299,489.5 L299,479 Z" fill="rgb(125,178,120)"/><path d="M415,442.6 L420.6,409.6 L431,420 L441,433 L450,430 L450,436 L442,440.5 L431,443 Z" fill="rgb(125,178,120)"/><g fill="none" stroke="#000" stroke-width="1.3" stroke-linejoin="round"><path d="M50.2,149.3 L49.5,153.6 L48.3,158.0 L47.0,162.4 L46.7,168.0 L47.6,172.5 L45.8,175.6 L44.5,173.1 L43.3,169.3 L40.8,168.1 L35.1,168.7 L29.5,171.8 L27.6,175.0 L28.2,180.0 L27.6,183.1 L25.1,185.6 L20.7,183.7 L16.3,183.1 L12.5,182.5 L8.2,183.7 L3.8,185.6 L0.0,186.2"/><path d="M89.6,149.2 L84.0,156.0 L79.8,157.6 L82.6,160.4 L85.4,166.0 L84.0,173.0 L77.0,178.0 L70.0,179.3 L75.6,182.8 L72.8,188.4 L70.0,196.8 L71.4,203.8 L67.2,205.2 L58.8,212.2 L65.8,215.0 L70.0,216.4 L67.2,220.6 L53.2,229.0 L42.0,230.4 L39.2,234.6 L25.2,245.8 L21.0,240.0 L21.0,230.4 L14.0,229.0 L12.6,236.0 L11.2,245.8 L0.0,248.6"/><path d="M156.6,149.2 L156.6,153.4 L160.8,157.6 L158.0,163.2 L159.4,168.8 L157.3,171.6 L154.5,174.4 L158.0,180.0 L158.0,185.6 L165.0,187.0 L166.4,189.8 L172.0,194.0 L177.6,201.0 L177.6,206.6 L186.0,209.4 L191.6,205.2 L193.0,198.2 L201.4,194.0 L202.8,203.8 L208.4,208.0 L216.8,205.2 L218.0,199.6 L209.8,194.0 L212.6,189.8 L218.0,185.6 L221.0,189.8 L228.0,189.8 L236.4,184.0 L240.5,173.0 L239.0,163.0 L243.4,156.2 L242.0,150.6 L239.0,149.2"/><path d="M296.1,181.5 L297.0,177.8 L300.0,172.4 L305.0,173.6 L306.8,169.3 L310.6,168.4 L320.4,169.1 L318.0,174.0 L313.4,178.7 L309.6,182.0 L306.4,185.7 L298.4,189.0 L296.5,183.4 L296.1,181.5 Z"/><path d="M600.6,197.7 L598.4,194.7 L594.0,193.3 L588.1,196.2 L589.5,203.6 L586.6,197.7 L589.5,191.8 L591.0,184.4 L586.6,181.5 L582.2,184.4 L573.4,196.2 L566.0,197.0 L561.6,193.3 L560.1,188.1 L554.2,184.4 L545.4,184.4 L543.9,189.6 L539.5,183.0 L535.0,177.8 L527.0,170.5 L523.3,174.9 L520.4,168.2 L514.5,165.3 L507.1,166.8 L505.6,169.7 L498.3,175.6 L495.3,180.0 L489.4,183.0 L486.5,182.2 L477.7,191.8 L468.8,203.6 L460.8,210.5 L455.0,212.0 L463.6,204.9 L463.6,194.9 L459.3,190.6 L458.0,183.5 L453.6,185.0 L452.2,192.0 L449.4,197.7 L443.0,202.7 L443.7,192.0 L448.0,183.5 L455.0,173.6 L455.0,165.0 L449.4,157.2 L438.0,155.8 L429.5,158.7 L418.1,156.8 L409.6,157.2 L403.9,161.5 L396.1,164.3 L394.7,170.7 L391.1,172.2 L384.0,173.6 L378.3,170.0 L372.6,170.0 L364.1,176.4 L355.6,182.1 L352.7,186.4 L347.0,187.8 L349.9,196.3 L345.6,194.9 L342.8,200.6 L338.5,202.0 L335.7,207.7 L336.5,212.0 L332.7,214.7 L324.0,209.3 L317.3,209.3 L310.7,214.7 L304.0,222.7 L298.7,230.7 L297.3,236.0 L300.0,244.0 L306.7,246.7 L313.3,249.3 L316.0,250.7 L304.0,250.7 L297.3,256.0 L296.0,260.0 L290.0,264.0 L288.0,268.0 L289.0,272.0 L293.0,274.0 L292.0,277.0 L289.0,278.0 L282.0,282.0 L277.0,287.0 L272.0,294.0 L269.0,301.0 L269.0,307.0 L273.0,310.0 L274.0,315.0 L277.0,320.0 L282.0,322.0 L286.0,321.0 L283.0,324.7 L283.7,332.0 L292.2,334.5 L291.0,341.8 L293.4,351.5 L300.7,358.8 L309.2,363.7 L316.5,365.0 L325.0,361.3 L328.7,354.0 L331.2,345.5 L332.4,339.4 L328.7,337.5 L331.2,335.7 L331.2,330.8 L328.7,328.4 L332.4,330.8 L337.2,340.6 L343.3,339.4 L348.2,334.5 L349.4,328.4 L351.9,332.0 L358.0,333.3 L361.6,330.8 L359.8,326.0 L365.3,324.7 L371.4,327.2 L377.4,336.9 L374.4,344.2 L373.8,354.0 L373.8,368.6 L372.6,375.9 L364.0,381.4 L364.0,386.9 L367.7,390.5 L379.9,395.4 L392.1,390.5 L403.8,381.0 L406.7,375.6 L400.0,369.0 L398.8,365.0 L392.0,362.4 L394.8,357.0 L401.4,355.8 L400.0,352.0 L400.0,351.3 L405.2,353.0 L407.8,356.5 L405.2,357.3 L408.7,353.9 L415.6,352.1 L425.2,353.0 L428.6,356.5 L426.9,360.0 L423.4,362.5 L425.2,363.4 L432.1,356.5 L438.2,359.5 L433.0,363.4 L428.6,368.6 L425.2,376.4 L424.3,380.8 L427.8,382.5 L431.2,379.0 L428.6,373.0 L433.0,367.8 L438.2,366.0 L443.4,369.5 L446.8,373.0 L446.0,376.4 L443.4,378.2 L437.3,379.0 L432.1,384.2 L433.0,387.7 L438.2,383.4 L446.0,380.8 L452.0,383.4 L448.6,385.1 L445.1,386.8 L441.6,391.2 L440.8,394.6 L446.8,396.4 L452.0,398.1 L455.0,399.7 L459.0,398.3 L461.7,400.3 L464.3,398.3 L467.0,399.0 L468.3,395.0 L470.3,401.7 L469.7,395.0 L475.0,397.0 L481.7,399.0 L483.7,401.0 L480.3,401.7 L475.0,400.3 L470.3,394.3 L471.0,389.7 L475.7,390.3 L477.0,387.7 L473.7,386.3 L471.7,384.3 L481.7,383.7 L476.3,381.7 L473.0,379.7 L477.0,378.3 L481.7,379.0 L484.3,383.0 L488.3,383.0 L491.7,380.3 L491.7,376.3 L488.3,372.3 L485.7,368.3 L485.0,363.0 L480.3,362.3 L474.3,368.3 L475.0,370.3 L480.3,373.0 L485.0,374.3 L490.3,373.0 L498.3,369.3 L505.0,369.0 L508.8,368.8 L514.8,370.6 L517.2,362.2 L520.8,352.6 L518.4,347.8 L510.0,345.4 L505.2,341.8 L504.0,334.6 L502.8,328.6 L505.2,320.2 L511.2,319.0 L516.0,321.4 L517.2,317.8 L516.0,313.0 L518.4,310.6 L522.0,312.4 L525.6,309.4 L530.4,309.4 L536.4,311.8 L540.0,313.0 L544.8,316.0 L549.6,313.0 L556.8,310.6 L560.4,315.4 L564.0,311.2 L571.2,308.8 L576.0,305.8 L577.2,301.0 L566.8,299.7 L555.4,297.2 L554.1,299.7 L563.0,303.5 L575.6,302.2 L576.9,298.4 L564.2,292.1 L552.8,287.0 L546.5,280.7 L554.1,279.4 L559.2,276.9 L561.7,280.7 L569.3,279.4 L575.6,285.8 L583.2,293.4 L590.8,289.6 L590.8,285.8 L585.8,284.5 L575.6,273.1 L571.8,268.0 L574.4,264.2 L579.4,260.4 L585.8,263.0 L582.0,259.2 L578.2,255.4 L583.2,249.0 L588.3,255.4 L593.4,263.0 L601.0,266.8"/><path d="M601.0,238.9 L595.9,238.3 L592.1,244.0 L591.5,250.3 L595.9,257.9 L598.4,265.5 L601.0,266.8"/><path d="M507.6,319.0 L514.8,320.2 L519.6,322.6 L524.4,325.0 L523.2,331.0 L520.8,335.8 L513.6,338.2 L511.2,334.6 L507.6,328.6 L506.4,323.8 L507.6,319.0 Z"/><path d="M142.3,449.5 L146.3,444.9 L156.8,441.6 L167.4,440.3 L177.9,442.9 L184.5,446.9 L188.5,453.5 L193.8,458.8 L195.1,465.4 L188.5,468.0 L183.2,470.6 L187.2,473.3 L193.8,475.9 L195.1,479.9 L191.1,483.8 L184.5,487.8 L180.6,485.2 L179.3,487.8 L185.9,490.4 L193.8,493.1 L199.1,498.3 L200.4,503.6 L196.4,508.9 L189.8,511.5 L183.2,508.9 L176.6,510.2 L173.0,513.0 L170.0,510.0 L166.0,514.0 L162.1,514.2 L158.0,511.0 L154.2,511.5 L150.0,515.0 L147.6,512.9 L143.6,516.8 L141.0,508.9 L137.0,503.6 L133.1,506.3 L130.4,511.5 L125.2,514.2 L131.8,510.2 L135.7,503.6 L135.7,495.7 L130.4,499.7 L127.8,498.3 L125.2,493.1 L122.5,489.1 L119.9,486.5 L114.6,485.2 L113.3,490.4 L106.7,498.3 L104.0,494.0 L101.4,497.0 L96.1,497.0 L92.0,493.0 L88.2,495.7 L82.9,491.7 L80.3,485.2 L80.3,478.6 L86.9,479.9 L94.8,474.6 L96.1,478.6 L100.0,472.0 L102.7,477.2 L109.3,479.9 L114.6,482.5 L119.9,482.5 L125.2,481.2 L127.8,477.2 L126.5,472.0 L127.8,466.7 L135.7,465.4 L139.7,470.6 L137.0,461.4 L130.4,456.1 L135.7,452.2 L139.7,454.8 L150.2,469.3 L146.0,460.0 L142.3,449.5 Z"/><path d="M93.5,440.3 L98.8,438.3 L106.7,439.0 L110.0,443.6 L102.7,444.9 L100.1,446.9 L96.1,444.2 L93.5,440.3 Z"/><path d="M165.4,413.0 L172.0,408.0 L178.9,411.0 L177.0,418.0 L168.0,421.0 L165.4,416.0 L165.4,413.0 Z"/><path d="M3.8,163.0 L6.9,162.4 L12.5,159.3 L16.9,157.4 L15.0,161.8 L17.6,165.6 L16.9,170.6 L11.9,173.1 L6.3,171.8 L4.4,167.0 L3.8,163.0 Z" fill="rgb(165,110,75)"/></g><path d="M600.0,312.0 L599.0,312.8 L574.0,319.7 L551.0,338.0 L535.0,346.0 L533.0,350.5 L521.6,363.0 L506.8,379.0 L498.8,386.0 L485.0,406.5 L457.7,427.0 L441.0,433.5 L431.0,420.0 L420.6,409.6 L415.0,442.6 L399.0,443.7 L386.5,442.6 L356.6,455.4 L329.0,466.0 L318.0,462.0 L312.0,460.8 L299.0,479.0 L299.0,489.5 L302.0,496.0 L312.0,498.5 L301.0,518.0 L273.5,533.0 L250.0,540.7 L227.4,549.6 L204.7,555.4 L169.0,550.6 L139.7,543.1 L107.2,525.2 L65.0,509.6 L32.5,511.6 L16.2,499.2 L0.0,486.2" fill="none" stroke="#f41c1c" stroke-width="1.5"/><path d="M0.0,443.8 L4.0,447.0 L9.0,451.0 L10.4,456.0 L6.0,454.0 L1.0,449.0 Z" fill="none" stroke="#f41c1c" stroke-width="1.5"/><g stroke="#787878" stroke-width="1" fill="none"><line x1="177" y1="148" x2="168" y2="750"/><line x1="413" y1="148" x2="422" y2="750"/><path d="M0,379.5 Q320,389.5 600,380.2"/><circle cx="300" cy="448" r="200"/><circle cx="300" cy="448" r="400"/></g></g><g stroke="#d4dcfc" stroke-width="1.3" stroke-opacity="0.75" fill="none" stroke-linecap="square"><line x1="395" y1="420" x2="397" y2="443"/><line x1="399" y1="425" x2="401" y2="442"/><line x1="404" y1="418" x2="405" y2="440"/><line x1="409" y1="422" x2="411" y2="441"/><line x1="422" y1="414" x2="423" y2="444"/><line x1="427" y1="418" x2="428" y2="445"/><line x1="431" y1="424" x2="432" y2="446"/><line x1="436" y1="428" x2="437" y2="438"/><line x1="249" y1="499" x2="261" y2="530"/><line x1="254" y1="497" x2="264" y2="527"/><line x1="259" y1="500" x2="266" y2="522"/><line x1="246" y1="506" x2="255" y2="522"/><line x1="262" y1="505" x2="268" y2="518"/><line x1="382" y1="434" x2="384" y2="445"/><line x1="388" y1="428" x2="389" y2="444"/></g><path d="M9,536 L19,537 L13,548 Z" fill="#7db47a"/><rect x="601" y="358" width="6" height="4" fill="#3c8cff"/><rect x="601" y="362" width="5" height="4" fill="#80c800"/><rect x="602" y="373" width="6" height="5" fill="#2880ff"/><rect x="601" y="382" width="4" height="4" fill="#80d0ff"/><rect x="602" y="390" width="7" height="8" fill="#2870ff"/><rect x="601" y="396" width="5" height="4" fill="#80c800"/><rect x="602" y="408" width="5" height="4" fill="#3c8cff"/><rect x="610" y="386" width="7" height="2" fill="#80e0ff"/><rect x="601" y="425" width="3" height="3" fill="#80c800"/><rect x="602" y="522" width="4" height="3" fill="#2870ff"/><rect x="601" y="670" width="4" height="4" fill="#3c8cff"/><rect x="385" y="145" width="8" height="2" fill="#aaff00"/><rect x="397" y="142" width="7" height="5" fill="#2880ff"/><rect x="405" y="145" width="4" height="3" fill="#80c800"/><rect x="432" y="142" width="9" height="5" fill="#3c8cff"/><rect x="442" y="144" width="6" height="4" fill="#80d0ff"/><rect x="446" y="145" width="4" height="3" fill="#80c800"/><rect x="467" y="133" width="1.5" height="7" fill="#60c0ff"/><rect x="520" y="140" width="2" height="2" fill="#2870ff"/><rect x="600" y="145" width="4" height="3" fill="#80c800"/><rect x="522" y="145.5" width="78" height="2" fill="#b4b4c8"/><rect x="0" y="146" width="34" height="2" fill="#b4b4c8"/><rect x="601.5" y="148" width="2" height="78" fill="#b4b4c8"/><rect x="601.5" y="716" width="2" height="34" fill="#b4b4c8"/><line x1="600.5" y1="148" x2="600.5" y2="750" stroke="#a0a0a0"/><line x1="600.5" y1="148" x2="600.5" y2="750" stroke="#505050" stroke-dasharray="1.3,1.7"/><line x1="0" y1="148.5" x2="601" y2="148.5" stroke="#d85060" stroke-width="2"/><line x1="600.5" y1="148" x2="600.5" y2="312" stroke="#f03030" stroke-width="2"/><text x="690" y="21" font-family="Liberation Sans, sans-serif" font-size="13" fill="#707070" text-anchor="start" font-weight="normal" textLength="51" lengthAdjust="spacingAndGlyphs">30.0 km</text><text x="607" y="139" font-family="Liberation Sans, sans-serif" font-size="13" fill="#707070" text-anchor="start" font-weight="normal" textLength="43" lengthAdjust="spacingAndGlyphs">0.0 km</text><text x="279" y="245" font-family="Liberation Sans, sans-serif" font-size="13" fill="#6c6c70" text-anchor="start" font-weight="normal" textLength="49" lengthAdjust="spacingAndGlyphs">80.0 km</text><text x="278" y="662" font-family="Liberation Sans, sans-serif" font-size="13" fill="#6c6c70" text-anchor="start" font-weight="normal" textLength="51" lengthAdjust="spacingAndGlyphs">80.0 km</text><text x="185" y="169" font-family="Liberation Sans, sans-serif" font-size="13" fill="#6c6c70" fill-opacity="0.6" text-anchor="start" font-weight="normal" textLength="37" lengthAdjust="spacingAndGlyphs">19° W</text><text x="420" y="169" font-family="Liberation Sans, sans-serif" font-size="13" fill="#6c6c70" fill-opacity="0.6" text-anchor="start" font-weight="normal" textLength="37" lengthAdjust="spacingAndGlyphs">17° W</text><text x="6" y="380" font-family="Liberation Sans, sans-serif" font-size="13" fill="#6c6c70" text-anchor="start" font-weight="normal" textLength="34" lengthAdjust="spacingAndGlyphs">64° N</text><text x="558" y="381" font-family="Liberation Sans, sans-serif" font-size="13" fill="#6c6c70" text-anchor="start" font-weight="normal" textLength="34" lengthAdjust="spacingAndGlyphs">64° N</text><text x="175" y="747.5" font-family="Liberation Sans, sans-serif" font-size="13" fill="#6c6c70" text-anchor="start" font-weight="normal" textLength="37" lengthAdjust="spacingAndGlyphs">19° W</text><text x="428" y="747.5" font-family="Liberation Sans, sans-serif" font-size="13" fill="#6c6c70" text-anchor="start" font-weight="normal" textLength="38" lengthAdjust="spacingAndGlyphs">17° W</text><text x="822" y="25" font-family="Liberation Sans, sans-serif" font-size="17" fill="#000" text-anchor="start" font-weight="normal" textLength="91" lengthAdjust="spacingAndGlyphs">MAX (dBZ)</text><text x="779.5" y="47" font-family="Liberation Sans, sans-serif" font-size="17" fill="#000" text-anchor="start" font-weight="normal" textLength="177" lengthAdjust="spacingAndGlyphs">03:50 / 27-Oct-2018</text><text x="803.5" y="69" font-family="Liberation Sans, sans-serif" font-size="17" fill="#000" text-anchor="start" font-weight="normal" textLength="129" lengthAdjust="spacingAndGlyphs">Mobile radar 1</text><rect x="762" y="80.0" width="74" height="24.5" fill="#000000"/><rect x="762" y="104.2" width="74" height="24.5" fill="#c00000"/><rect x="762" y="128.4" width="74" height="24.5" fill="#ff4000"/><rect x="762" y="152.6" width="74" height="24.5" fill="#ff8000"/><rect x="762" y="176.8" width="74" height="24.5" fill="#ffc000"/><rect x="762" y="201.0" width="74" height="24.5" fill="#ffff00"/><rect x="762" y="225.2" width="74" height="24.5" fill="#003200"/><rect x="762" y="249.4" width="74" height="24.5" fill="#286400"/><rect x="762" y="273.6" width="74" height="24.5" fill="#509600"/><rect x="762" y="297.8" width="74" height="24.5" fill="#80c800"/><rect x="762" y="322.0" width="74" height="24.5" fill="#aaff00"/><rect x="762" y="346.2" width="74" height="24.5" fill="#aaffff"/><rect x="762" y="370.4" width="74" height="24.5" fill="#80d0ff"/><rect x="762" y="394.6" width="74" height="24.5" fill="#50a8ff"/><rect x="762" y="418.8" width="74" height="24.5" fill="#2880ff"/><rect x="762" y="443.0" width="74" height="24.5" fill="#0050ff"/><rect x="762" y="467.2" width="74" height="24.5" fill="#ffffff"/><rect x="762" y="491.4" width="74" height="24.2" fill="url(#chk)"/><path d="M839,101.2 L842.5,104.2 L839,107.2 Z" fill="#000"/><text x="845.5" y="108.3" font-family="Liberation Sans, sans-serif" font-size="13" fill="#000" text-anchor="start" font-weight="normal" textLength="56.5" lengthAdjust="spacingAndGlyphs">50.0 dBZ</text><path d="M839,125.4 L842.5,128.4 L839,131.4 Z" fill="#000"/><text x="845.5" y="132.5" font-family="Liberation Sans, sans-serif" font-size="13" fill="#000" text-anchor="start" font-weight="normal" textLength="56.5" lengthAdjust="spacingAndGlyphs">46.7 dBZ</text><path d="M839,149.6 L842.5,152.6 L839,155.6 Z" fill="#000"/><text x="845.5" y="156.7" font-family="Liberation Sans, sans-serif" font-size="13" fill="#000" text-anchor="start" font-weight="normal" textLength="56.5" lengthAdjust="spacingAndGlyphs">43.3 dBZ</text><path d="M839,173.8 L842.5,176.8 L839,179.8 Z" fill="#000"/><text x="845.5" y="180.9" font-family="Liberation Sans, sans-serif" font-size="13" fill="#000" text-anchor="start" font-weight="normal" textLength="56.5" lengthAdjust="spacingAndGlyphs">40.0 dBZ</text><path d="M839,198.0 L842.5,201.0 L839,204.0 Z" fill="#000"/><text x="845.5" y="205.1" font-family="Liberation Sans, sans-serif" font-size="13" fill="#000" text-anchor="start" font-weight="normal" textLength="56.5" lengthAdjust="spacingAndGlyphs">36.7 dBZ</text><path d="M839,222.2 L842.5,225.2 L839,228.2 Z" fill="#000"/><text x="845.5" y="229.29999999999998" font-family="Liberation Sans, sans-serif" font-size="13" fill="#000" text-anchor="start" font-weight="normal" textLength="56.5" lengthAdjust="spacingAndGlyphs">33.3 dBZ</text><path d="M839,246.4 L842.5,249.4 L839,252.4 Z" fill="#000"/><text x="845.5" y="253.5" font-family="Liberation Sans, sans-serif" font-size="13" fill="#000" text-anchor="start" font-weight="normal" textLength="56.5" lengthAdjust="spacingAndGlyphs">30.0 dBZ</text><path d="M839,270.6 L842.5,273.6 L839,276.6 Z" fill="#000"/><text x="845.5" y="277.70000000000005" font-family="Liberation Sans, sans-serif" font-size="13" fill="#000" text-anchor="start" font-weight="normal" textLength="56.5" lengthAdjust="spacingAndGlyphs">26.7 dBZ</text><path d="M839,294.8 L842.5,297.8 L839,300.8 Z" fill="#000"/><text x="845.5" y="301.9" font-family="Liberation Sans, sans-serif" font-size="13" fill="#000" text-anchor="start" font-weight="normal" textLength="56.5" lengthAdjust="spacingAndGlyphs">23.3 dBZ</text><path d="M839,319.0 L842.5,322.0 L839,325.0 Z" fill="#000"/><text x="845.5" y="326.1" font-family="Liberation Sans, sans-serif" font-size="13" fill="#000" text-anchor="start" font-weight="normal" textLength="56.5" lengthAdjust="spacingAndGlyphs">20.0 dBZ</text><path d="M839,343.2 L842.5,346.2 L839,349.2 Z" fill="#000"/><text x="845.5" y="350.3" font-family="Liberation Sans, sans-serif" font-size="13" fill="#000" text-anchor="start" font-weight="normal" textLength="56.5" lengthAdjust="spacingAndGlyphs">16.7 dBZ</text><path d="M839,367.4 L842.5,370.4 L839,373.4 Z" fill="#000"/><text x="845.5" y="374.5" font-family="Liberation Sans, sans-serif" font-size="13" fill="#000" text-anchor="start" font-weight="normal" textLength="56.5" lengthAdjust="spacingAndGlyphs">13.3 dBZ</text><path d="M839,391.6 L842.5,394.6 L839,397.6 Z" fill="#000"/><text x="845.5" y="398.7" font-family="Liberation Sans, sans-serif" font-size="13" fill="#000" text-anchor="start" font-weight="normal" textLength="56.5" lengthAdjust="spacingAndGlyphs">10.0 dBZ</text><path d="M839,415.8 L842.5,418.8 L839,421.8 Z" fill="#000"/><text x="853.5" y="422.90000000000003" font-family="Liberation Sans, sans-serif" font-size="13" fill="#000" text-anchor="start" font-weight="normal" textLength="48.5" lengthAdjust="spacingAndGlyphs">6.7 dBZ</text><path d="M839,440.0 L842.5,443.0 L839,446.0 Z" fill="#000"/><text x="853.5" y="447.1" font-family="Liberation Sans, sans-serif" font-size="13" fill="#000" text-anchor="start" font-weight="normal" textLength="48.5" lengthAdjust="spacingAndGlyphs">3.3 dBZ</text><path d="M839,464.2 L842.5,467.2 L839,470.2 Z" fill="#000"/><text x="853.5" y="471.3" font-family="Liberation Sans, sans-serif" font-size="13" fill="#000" text-anchor="start" font-weight="normal" textLength="48.5" lengthAdjust="spacingAndGlyphs">0.0 dBZ</text><text x="758" y="534" font-family="Liberation Sans, sans-serif" font-size="12.5" fill="#000" text-anchor="start" font-weight="normal" textLength="48" lengthAdjust="spacingAndGlyphs">Pdf File:</text><text x="857.3" y="534" font-family="Liberation Sans, sans-serif" font-size="12.5" fill="#000" text-anchor="start" font-weight="normal" textLength="119" lengthAdjust="spacingAndGlyphs">120km_30km.max</text><text x="758" y="551" font-family="Liberation Sans, sans-serif" font-size="12.5" fill="#000" text-anchor="start" font-weight="normal" textLength="78.5" lengthAdjust="spacingAndGlyphs">Clutter Filter:</text><text x="857.3" y="551" font-family="Liberation Sans, sans-serif" font-size="12.5" fill="#000" text-anchor="start" font-weight="normal" textLength="76" lengthAdjust="spacingAndGlyphs">IIRDoppler 6</text><text x="758" y="568" font-family="Liberation Sans, sans-serif" font-size="12.5" fill="#000" text-anchor="start" font-weight="normal" textLength="97.7" lengthAdjust="spacingAndGlyphs">Time sampling:</text><text x="857.3" y="568" font-family="Liberation Sans, sans-serif" font-size="12.5" fill="#000" text-anchor="start" font-weight="normal" textLength="15" lengthAdjust="spacingAndGlyphs">36</text><text x="758" y="585" font-family="Liberation Sans, sans-serif" font-size="12.5" fill="#000" text-anchor="start" font-weight="normal" textLength="25.6" lengthAdjust="spacingAndGlyphs">PRF:</text><text x="857.3" y="585" font-family="Liberation Sans, sans-serif" font-size="12.5" fill="#000" text-anchor="start" font-weight="normal" textLength="109" lengthAdjust="spacingAndGlyphs">1000 Hz / 800 Hz</text><text x="758" y="602" font-family="Liberation Sans, sans-serif" font-size="12.5" fill="#000" text-anchor="start" font-weight="normal" textLength="44.8" lengthAdjust="spacingAndGlyphs">Range:</text><text x="857.3" y="602" font-family="Liberation Sans, sans-serif" font-size="12.5" fill="#000" text-anchor="start" font-weight="normal" textLength="47" lengthAdjust="spacingAndGlyphs">120 km</text><text x="758" y="619" font-family="Liberation Sans, sans-serif" font-size="12.5" fill="#000" text-anchor="start" font-weight="normal" textLength="43.2" lengthAdjust="spacingAndGlyphs">Height:</text><text x="857.3" y="619" font-family="Liberation Sans, sans-serif" font-size="12.5" fill="#000" text-anchor="start" font-weight="normal" textLength="75.2" lengthAdjust="spacingAndGlyphs">0.000 km to</text><text x="857.3" y="636" font-family="Liberation Sans, sans-serif" font-size="12.5" fill="#000" text-anchor="start" font-weight="normal" textLength="67.2" lengthAdjust="spacingAndGlyphs">30.000 km</text><text x="758" y="653" font-family="Liberation Sans, sans-serif" font-size="12.5" fill="#000" text-anchor="start" font-weight="normal" textLength="52.8" lengthAdjust="spacingAndGlyphs">Hor Res:</text><text x="857.3" y="653" font-family="Liberation Sans, sans-serif" font-size="12.5" fill="#000" text-anchor="start" font-weight="normal" textLength="93.5" lengthAdjust="spacingAndGlyphs">0.400 km/pixel</text><text x="758" y="670" font-family="Liberation Sans, sans-serif" font-size="12.5" fill="#000" text-anchor="start" font-weight="normal" textLength="56" lengthAdjust="spacingAndGlyphs">Vert Res:</text><text x="857.3" y="670" font-family="Liberation Sans, sans-serif" font-size="12.5" fill="#000" text-anchor="start" font-weight="normal" textLength="93.5" lengthAdjust="spacingAndGlyphs">0.200 km/pixel</text><text x="758" y="687" font-family="Liberation Sans, sans-serif" font-size="12.5" fill="#000" text-anchor="start" font-weight="normal" textLength="33.6" lengthAdjust="spacingAndGlyphs">Data:</text><text x="857.3" y="687" font-family="Liberation Sans, sans-serif" font-size="12.5" fill="#000" text-anchor="start" font-weight="normal" textLength="71.1" lengthAdjust="spacingAndGlyphs">Radar Data</text><text x="758" y="705" font-family="Liberation Sans, sans-serif" font-size="12.5" fill="#000" text-anchor="start" font-weight="normal" textLength="128" lengthAdjust="spacingAndGlyphs">Rainbow® SELEX-SI</text><text x="510.5" y="700" font-family="Liberation Sans, sans-serif" font-size="13.3" fill="#1a35a0" text-anchor="start" font-weight="bold" textLength="79.5" lengthAdjust="spacingAndGlyphs">Icelandic Met</text><text x="510.5" y="716.7" font-family="Liberation Sans, sans-serif" font-size="13.3" fill="#1a35a0" text-anchor="start" font-weight="bold" textLength="34.5" lengthAdjust="spacingAndGlyphs">Office</text><path d="M566.5,705.5 L575,711.5 L566.5,718 Z" fill="#8ab4dc"/><path d="M553.5,726 L561,718 L569,726 Z" fill="#6a9cd8"/><path d="M573.5,717.5 L589.5,717.5 L581.5,725.5 Z" fill="#1a3cb0"/><path d="M575.5,724.5 L575.5,738 L567.5,731 Z" fill="#2060c8"/></svg>
</body></html>
